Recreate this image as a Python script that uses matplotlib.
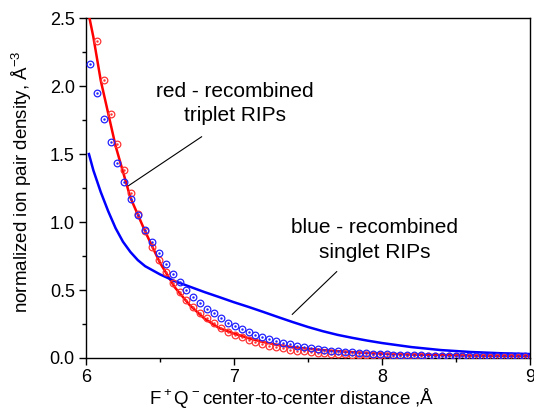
import numpy as np
import matplotlib.pyplot as plt

plt.rcParams['font.family'] = ['Liberation Sans', 'DejaVu Sans']
plt.rcParams['mathtext.fontset'] = 'custom'
plt.rcParams['mathtext.rm'] = 'Liberation Sans'

# sampled points (markers)
dist = [6.027, 6.074, 6.120, 6.167, 6.213, 6.260, 6.307, 6.353, 6.400, 6.446,
        6.493, 6.540, 6.586, 6.633, 6.679, 6.726, 6.773, 6.819, 6.866, 6.912,
        6.959, 7.006, 7.052, 7.099, 7.145, 7.192, 7.239, 7.285, 7.332, 7.378,
        7.425, 7.472, 7.518, 7.565, 7.611, 7.658, 7.705, 7.751, 7.798, 7.844,
        7.891, 7.938, 7.984, 8.031, 8.077, 8.124, 8.171, 8.217, 8.264, 8.310,
        8.357, 8.404, 8.450, 8.497, 8.543, 8.590, 8.637, 8.683, 8.730, 8.776,
        8.823, 8.870, 8.916, 8.963]
singlet_pts = [2.160, 1.951, 1.760, 1.588, 1.431, 1.292, 1.169, 1.051, 0.941, 0.850,
               0.770, 0.689, 0.618, 0.559, 0.500, 0.451, 0.402, 0.360, 0.328, 0.292,
               0.260, 0.235, 0.211, 0.189, 0.169, 0.152, 0.137, 0.125, 0.110, 0.100,
               0.091, 0.083, 0.075, 0.068, 0.061, 0.055, 0.050, 0.045, 0.041, 0.037,
               0.034, 0.031, 0.028, 0.026, 0.024, 0.022, 0.021, 0.020, 0.019, 0.018,
               0.017, 0.016, 0.016, 0.015, 0.015, 0.014, 0.014, 0.013, 0.013, 0.012,
               0.012, 0.012, 0.011, 0.011]
triplet_pts = [2.660, 2.333, 2.044, 1.794, 1.574, 1.382, 1.215, 1.060, 0.935, 0.819,
               0.720, 0.635, 0.554, 0.488, 0.426, 0.377, 0.328, 0.292, 0.255, 0.223,
               0.194, 0.169, 0.152, 0.132, 0.115, 0.103, 0.091, 0.081, 0.071, 0.062,
               0.054, 0.048, 0.043, 0.039, 0.035, 0.032, 0.029, 0.027, 0.025, 0.023,
               0.021, 0.020, 0.019, 0.018, 0.017, 0.016, 0.015, 0.014, 0.014, 0.013,
               0.013, 0.012, 0.012, 0.011, 0.011, 0.010, 0.010, 0.010, 0.009, 0.009,
               0.009, 0.008, 0.008, 0.008]

# solid curves
red_x = [6.02, 6.05, 6.1, 6.2, 6.3, 6.4, 6.5, 6.6, 6.7, 6.8, 6.9, 7.0, 7.1, 7.2,
         7.3, 7.4, 7.5, 7.6, 7.8, 8.0, 8.2, 8.4, 8.6, 8.8, 9.0]
red_y = [2.52, 2.36, 2.04, 1.56, 1.18, 0.93, 0.70, 0.52, 0.39, 0.29, 0.22, 0.18,
         0.145, 0.117, 0.095, 0.079, 0.068, 0.058, 0.043, 0.032, 0.025, 0.021,
         0.018, 0.016, 0.014]
blue_x = [6.02, 6.05, 6.1, 6.15, 6.2, 6.25, 6.3, 6.35, 6.4, 6.5, 6.6, 6.7, 6.8,
          6.9, 7.0, 7.1, 7.2, 7.3, 7.4, 7.5, 7.6, 7.7, 7.8, 7.9, 8.0, 8.2, 8.4,
          8.6, 8.8, 9.0]
blue_y = [1.50, 1.38, 1.22, 1.08, 0.955, 0.855, 0.78, 0.72, 0.675, 0.615, 0.565,
          0.525, 0.485, 0.448, 0.41, 0.375, 0.338, 0.30, 0.263, 0.228, 0.197,
          0.17, 0.148, 0.128, 0.11, 0.08, 0.058, 0.044, 0.035, 0.029]

fig = plt.figure(figsize=(5.34, 4.11), dpi=100)
ax = fig.add_axes([0.161, 0.129, 0.8315, 0.827])

ax.plot(red_x, red_y, color='#ff0000', lw=1.8, zorder=3)
ax.plot(blue_x, blue_y, color='#0000ff', lw=1.8, zorder=3)
ax.plot(dist, triplet_pts, ls='none', marker='o', ms=4.8, mfc='none',
        mec='#ff3333', mew=0.9, zorder=4)
ax.plot(dist, triplet_pts, ls='none', marker='.', ms=1.5, color='#ff3333', zorder=4)
ax.plot(dist, singlet_pts, ls='none', marker='o', ms=4.8, mfc='none',
        mec='#2222ff', mew=0.9, zorder=5)
ax.plot(dist, singlet_pts, ls='none', marker='.', ms=1.5, color='#2222ff', zorder=5)

ax.set_xlim(6, 9)
ax.set_ylim(0, 2.5)
ax.set_xticks([6, 7, 8, 9])
ax.set_xticks([6.5, 7.5, 8.5], minor=True)
ax.set_yticks([0, 0.5, 1.0, 1.5, 2.0, 2.5])
ax.set_yticks([0.25, 0.75, 1.25, 1.75, 2.25], minor=True)
ax.set_yticklabels(['0.0', '0.5', '1.0', '1.5', '2.0', '2.5'])
ax.tick_params(which='major', length=5, width=1, labelsize=13, direction='out', pad=3)
ax.tick_params(which='minor', length=3, width=1, direction='out')
for s in ax.spines.values():
    s.set_linewidth(1)

ax.set_ylabel('normalized ion pair density, Å$^{-3}$', fontsize=13.5)
ax.yaxis.set_label_coords(-0.118, 0.52)
ax.set_xlabel('F$^+$Q$^-$center-to-center distance ,Å', fontsize=13.5)
ax.xaxis.set_label_coords(0.464, -0.082)

ax.text(7.007, 1.87, 'red - recombined\ntriplet RIPs', fontsize=15,
        ha='center', va='center', linespacing=1.35)
ax.plot([6.286, 6.781], [1.266, 1.627], color='black', lw=0.8)
ax.text(7.95, 0.868, 'blue - recombined\nsinglet RIPs', fontsize=15,
        ha='center', va='center', linespacing=1.35)
ax.plot([7.394, 7.694], [0.321, 0.635], color='black', lw=0.8)

plt.savefig('out.png', dpi=100)
